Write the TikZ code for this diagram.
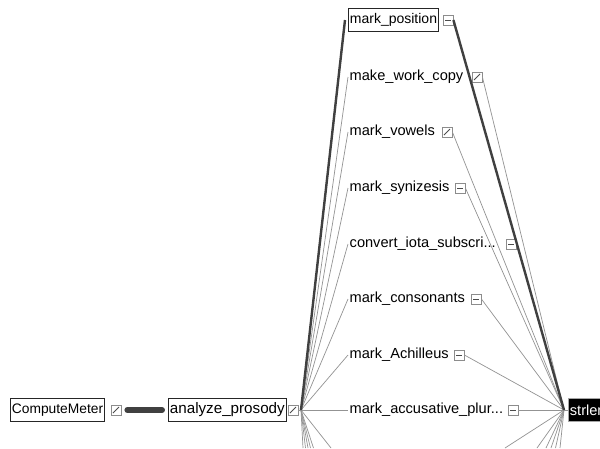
\documentclass[tikz,border=0pt]{standalone}
\usepackage{fontspec}
\setmainfont{Liberation Sans}
\begin{document}
\begin{tikzpicture}[x=1pt,y=-1pt,
  lbl/.style={font=\fontsize{14.6}{16}\selectfont, inner xsep=1.5pt, inner ysep=0pt, anchor=west, minimum height=23pt},
  boxed/.style={lbl, draw=black!85, line width=0.8pt},
  icon/.style={draw=gray!90, line width=0.8pt, minimum size=10pt, inner sep=0pt, fill=white},
  minusicon/.style={icon, path picture={\draw[black!70, line width=0.9pt] ([xshift=-3pt]path picture bounding box.center) -- ([xshift=3pt]path picture bounding box.center);}},
  slashicon/.style={icon, path picture={\draw[black!70, line width=0.9pt] ([shift={(-3pt,-3pt)}]path picture bounding box.center) -- ([shift={(3pt,3pt)}]path picture bounding box.center);}},
  thinline/.style={draw=gray!85, line width=0.7pt},
  heavy/.style={draw=black!75, line width=2.4pt},
  bigline/.style={draw=black!75, line width=6pt, line cap=round}
]
\useasboundingbox (0,0) rectangle (600,448);
\fill[white] (0,0) rectangle (600,448);

% left chain
\node[boxed, font=\fontsize{13.8}{16}\selectfont] (cm) at (10,410) {ComputeMeter};
\node[slashicon] (cmi) at (116,410) {};
\node[boxed, font=\fontsize{15.2}{16}\selectfont] (ap) at (168,410) {analyze\_prosody};
\node[slashicon] (api) at (293,410) {};
\coordinate (fl) at (301,410);
\coordinate (fr) at (564,410);

% column of callees
\node[boxed, font=\fontsize{14}{16}\selectfont] (n1) at (348,20) {mark\_position};
\node[minusicon] (i1) at (448,20) {};
\node[lbl] (n2) at (348,77) {make\_work\_copy};
\node[slashicon] (i2) at (477,77) {};
\node[lbl] (n3) at (348,132) {mark\_vowels};
\node[slashicon] (i3) at (447,132) {};
\node[lbl] (n4) at (348,188) {mark\_synizesis};
\node[minusicon] (i4) at (460,188) {};
\node[lbl] (n5) at (348,244) {convert\_iota\_subscri...};
\node[minusicon] (i5) at (511,244) {};
\node[lbl] (n6) at (348,299) {mark\_consonants};
\node[minusicon] (i6) at (476,299) {};
\node[lbl] (n7) at (348,355) {mark\_Achilleus};
\node[minusicon] (i7) at (459,355) {};
\node[lbl] (n8) at (348,410) {mark\_accusative\_plur...};
\node[minusicon] (i8) at (513,410) {};

% strlen
\node[lbl, fill=black, text=white, draw=gray!70, line width=0.8pt] (sl) at (568,410) {strlen};

% bottom free ends
\coordinate (b1) at (303,448);
\coordinate (b2) at (305.5,448);
\coordinate (b3) at (308,448);
\coordinate (b4) at (310.5,448);
\coordinate (b5) at (313.5,448);
\coordinate (b6) at (331,448);
\coordinate (c1) at (505,448);
\coordinate (c2) at (537,448);
\coordinate (c3) at (546,448);
\coordinate (c4) at (551,448);
\coordinate (c5) at (555.5,448);
\coordinate (c6) at (560,448);

% connectors
\draw[bigline] ([xshift=6pt]cmi.east) -- ([xshift=-6pt]ap.west);
\draw[thinline] (api.east) -- (fl);
\foreach \n in {n2,n3,n4,n5,n6,n7,n8} \draw[thinline] (fl) -- (\n.west);
\foreach \i in {i2,i3,i4,i5,i6,i7,i8} \draw[thinline] (\i.east) -- (fr);
\foreach \b in {b1,b2,b3,b4,b5,b6} \draw[thinline] (fl) -- (\b);
\foreach \c in {c1,c2,c3,c4,c5,c6} \draw[thinline] (fr) -- (\c);
\draw[thinline] (fr) -- (sl.west);
\draw[heavy] (fl) -- ([xshift=-3pt]n1.west);
\draw[heavy] (i1.east) -- (fr);
\end{tikzpicture}
\end{document}
